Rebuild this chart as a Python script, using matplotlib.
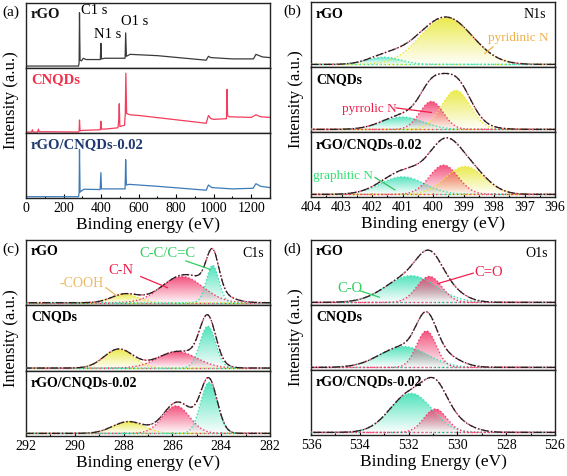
import numpy as np
import matplotlib
matplotlib.use("Agg")
import matplotlib.pyplot as plt
import matplotlib.colors as mcolors
from matplotlib.ticker import MultipleLocator

plt.rcParams['font.family'] = ['Liberation Serif', 'DejaVu Serif']

samples = ['rGO', 'CNQDs', 'rGO/CNQDs-0.02']

# ---- (a) survey spectra (eV, normalised intensity)
surv_x_rgo = [0, 280, 283, 285, 288, 296, 305, 320, 396, 399, 402, 420, 528, 531, 535, 555,
              700, 960, 972, 985, 1100, 1212, 1225, 1260, 1300]
surv_y_rgo = [0.03, 0.03, 0.08, 0.85, 0.12, 0.11, 0.15, 0.13, 0.13, 0.38, 0.14, 0.15, 0.15, 0.54,
              0.18, 0.21, 0.19, 0.12, 0.18, 0.16, 0.14, 0.14, 0.21, 0.17, 0.16]
surv_x_cnqd = [0, 30, 34, 38, 62, 66, 70, 280, 283, 285, 288, 300, 396, 399, 402, 420, 490, 494,
               497, 500, 525, 529, 532, 536, 555, 600, 960, 972, 985, 1000, 1068, 1071, 1074,
               1080, 1200, 1225, 1250, 1300]
surv_y_cnqd = [0.015, 0.015, 0.05, 0.015, 0.015, 0.06, 0.02, 0.015, 0.03, 0.2, 0.035, 0.04,
               0.05, 0.18, 0.06, 0.06, 0.08, 0.2, 0.45, 0.1, 0.12, 0.3, 0.92, 0.3, 0.28, 0.27,
               0.15, 0.27, 0.22, 0.21, 0.22, 0.67, 0.27, 0.25, 0.24, 0.28, 0.25, 0.24]
surv_x_comp = [0, 280, 283, 285, 288, 300, 310, 395, 399, 402, 420, 528, 531, 535, 550, 700,
               960, 972, 990, 1100, 1210, 1225, 1250, 1300]
surv_y_comp = [0.02, 0.02, 0.08, 0.75, 0.09, 0.12, 0.135, 0.13, 0.39, 0.14, 0.14, 0.14, 0.59,
               0.2, 0.21, 0.18, 0.12, 0.2, 0.16, 0.14, 0.15, 0.22, 0.18, 0.16]

# ---- fitted components: centre (eV), height, FWHM, species
n1s_center = [[399.56, 401.6], [401.0, 399.25, 400.05], [401.0, 398.95, 399.65]]
n1s_height = [[0.72, 0.11], [0.19, 0.6, 0.43], [0.27, 0.43, 0.45]]
n1s_fwhm = [[2.0, 1.3], [1.6, 1.1, 0.9], [1.7, 1.5, 1.1]]
n1s_kind = [['pyridinic', 'graphitic'], ['graphitic', 'pyridinic', 'pyrrolic'],
            ['graphitic', 'pyridinic', 'pyrrolic']]
n1s_extra = [[400.8, 0.06, 1.5], [399.6, 0.17, 2.0], [400.2, 0.16, 2.0]]

c1s_center = [[287.95, 285.6, 284.35], [288.2, 285.8, 284.55], [287.8, 285.85, 284.5]]
c1s_height = [[0.13, 0.4, 0.57], [0.29, 0.25, 0.64], [0.18, 0.42, 0.78]]
c1s_fwhm = [[1.3, 2.0, 0.6], [1.4, 1.9, 0.75], [1.5, 1.3, 0.8]]
c1s_kind = [['COOH', 'CN', 'CC']] * 3
c1s_extra = [[284.4, 0.12, 1.6], [284.6, 0.1, 1.2], [285.2, 0.1, 1.4]]

o1s_center = [[531.9, 531.15], [532.2, 531.27], [531.9, 530.9]]
o1s_height = [[0.41, 0.4], [0.32, 0.56], [0.6, 0.36]]
o1s_fwhm = [[2.4, 1.2], [2.3, 0.95], [2.0, 1.1]]
o1s_kind = [['CO', 'C=O'], ['CO', 'C=O'], ['CO', 'C=O']]
o1s_extra = [[530.5, 0.14, 1.6], [530.6, 0.15, 1.6], [530.4, 0.2, 1.8]]

kind_color = {'pyridinic': '#e8e83a', 'pyrrolic': '#f23a6c', 'graphitic': '#3ee0b4',
              'COOH': '#e8e83a', 'CN': '#f23a6c', 'CC': '#3ee0b4',
              'CO': '#3ee0b4', 'C=O': '#f23a6c'}
surv_color = ['#3a3a3a', '#f43c5c', '#3c7ab8']
label_color_a = ['#111111', '#f0304a', '#1f3a70']

W, H = 567, 476
fig = plt.figure(figsize=(W / 100, H / 100), dpi=100)


def rect(l, t, r, b):
    return [l / W, 1 - b / H, (r - l) / W, (b - t) / H]


def make_panel(l, t, r, b, xlim, major, minor, xlabel, tag, tagx):
    axs = []
    h = (b - t) / 3
    for i in range(3):
        ax = fig.add_axes(rect(l, t + i * h, r, t + (i + 1) * h))
        ax.set_xlim(*xlim)
        ax.set_ylim(0, 1)
        ax.set_yticks([])
        for s in ax.spines.values():
            s.set_linewidth(1.0)
            s.set_color('#222222')
        if i < 2:
            ax.set_xticks([])
        else:
            ax.xaxis.set_major_locator(MultipleLocator(major))
            ax.xaxis.set_minor_locator(MultipleLocator(minor))
            ax.tick_params(axis='x', which='major', direction='in', length=3, width=0.8,
                           labelsize=10, pad=3)
            ax.tick_params(axis='x', which='minor', direction='in', length=1.8, width=0.8)
            ax.set_xlabel(xlabel, fontsize=12.5, labelpad=1)
        axs.append(ax)
    fig.text(tagx / W, 1 - (t + 9) / H, tag, fontsize=11, ha='left', va='center')
    fig.text((l - 15) / W, 1 - (t + b) / 2 / H, 'Intensity (a.u.)', rotation=90,
             fontsize=12, ha='center', va='center')
    return axs


def gauss(x, c, h, w):
    return h * np.exp(-4 * np.log(2) * (x - c) ** 2 / w ** 2)


def grad_fill(ax, x, y, base, color, z):
    poly = ax.fill_between(x, base, y, facecolor='none', edgecolor='none')
    img = np.ones((200, 1, 4))
    img[:, 0, :3] = mcolors.to_rgb(color)
    img[:, 0, 3] = np.linspace(0.03, 0.9, 200)
    im = ax.imshow(img, extent=[x.min(), x.max(), base, y.max()], origin='lower',
                   aspect='auto', zorder=z, interpolation='bilinear')
    im.set_clip_path(poly.get_paths()[0], transform=ax.transData)


def draw_fit(ax, xlim, centers, heights, fwhms, kinds, extra):
    x = np.linspace(min(xlim), max(xlim), 800)
    base = 0.04
    total = np.zeros_like(x)
    for k, (c, h, w, kd) in enumerate(zip(centers, heights, fwhms, kinds)):
        y = gauss(x, c, h, w)
        total += y
        col = kind_color[kd]
        grad_fill(ax, x, base + y, base, col, 2 + k)
        ax.plot(x, base + y, ls=(0, (1, 1.5)), color=col, lw=1.0, zorder=5)
        ax.plot(x, np.full_like(x, base), ls=(k, (1, 2)), color=col, lw=1.0, zorder=5)
    total += gauss(x, *extra)
    ax.plot(x, base + total, ls=(0, (1, 1.5)), color='#f06080', lw=1.2, zorder=6)
    ax.plot(x, base + total, ls='-.', color='#202020', lw=0.9, zorder=7)
    ax.set_xlim(*xlim)
    ax.set_ylim(0, 1)


# ---- (a)
ax_a = make_panel(26, 3, 270, 198, (0, 1300), 200, 100, 'Binding energy (eV)', '(a)', 2)
surveys = [(surv_x_rgo, surv_y_rgo), (surv_x_cnqd, surv_y_cnqd), (surv_x_comp, surv_y_comp)]
for i, ax in enumerate(ax_a):
    sx, sy = surveys[i]
    ax.plot(sx, sy, color=surv_color[i], lw=0.9)
    ax.text(0.02, 0.82, samples[i], transform=ax.transAxes, fontsize=10.5, weight='bold',
            color=label_color_a[i], va='center', ha='left')
ax_a[0].text(292, 0.88, 'C1 s', fontsize=10.5, va='center')
ax_a[0].text(360, 0.52, 'N1 s', fontsize=10.5, va='center')
ax_a[0].text(505, 0.71, 'O1 s', fontsize=10.5, va='center')

# ---- (b)
xb = (404, 396)
ax_b = make_panel(311, 2, 555, 197, xb, 1, 0.5, 'Binding energy (eV)', '(b)', 283)
for i, ax in enumerate(ax_b):
    draw_fit(ax, xb, n1s_center[i], n1s_height[i], n1s_fwhm[i], n1s_kind[i], n1s_extra[i])
    ax.text(0.02, 0.8, samples[i], transform=ax.transAxes, fontsize=10, weight='bold',
            va='center', ha='left', zorder=10)
ax_b[0].text(396.3, 0.8, 'N1s', fontsize=10, ha='right', va='center')
ax_b[0].text(397.2, 0.44, 'pyridinic N', fontsize=9.5, color='#eeb04a', ha='center', va='center')
ax_b[0].plot([398.3, 398.03], [0.21, 0.31], color='#eeb04a', lw=0.9, zorder=8)
ax_b[1].text(402.1, 0.36, 'pyrrolic N', fontsize=9.5, color='#f0204c', ha='center', va='center')
ax_b[1].plot([401.2, 400.05], [0.37, 0.3], color='#f0204c', lw=0.9, zorder=8)
ax_b[2].text(402.95, 0.32, 'graphitic N', fontsize=9.5, color='#30e070', ha='center', va='center')
ax_b[2].plot([401.9, 401.25], [0.3, 0.11], color='#30c060', lw=0.9, zorder=8)

# ---- (c)
xc = (292, 282)
ax_c = make_panel(26, 240, 270, 436, xc, 2, 1, 'Binding energy (eV)', '(c)', 2)
for i, ax in enumerate(ax_c):
    draw_fit(ax, xc, c1s_center[i], c1s_height[i], c1s_fwhm[i], c1s_kind[i], c1s_extra[i])
    ax.text(0.02, 0.82, samples[i], transform=ax.transAxes, fontsize=10, weight='bold',
            va='center', ha='left', zorder=10)
ax_c[0].text(282.25, 0.8, 'C1s', fontsize=10, ha='right', va='center')
ax_c[0].text(286.2, 0.8, 'C-C/C=C', fontsize=10.5, color='#30d060', ha='center', va='center')
ax_c[0].plot([285.45, 284.45], [0.68, 0.55], color='#30d060', lw=0.9, zorder=8)
ax_c[0].text(288.1, 0.53, 'C-N', fontsize=10.5, color='#f0204c', ha='center', va='center')
ax_c[0].plot([287.3, 286.2], [0.44, 0.27], color='#f0204c', lw=0.9, zorder=8)
ax_c[0].text(289.7, 0.33, '-COOH', fontsize=10, color='#eeb860', ha='center', va='center')
ax_c[0].plot([288.72, 288.3], [0.27, 0.15], color='#eeb860', lw=0.9, zorder=8)

# ---- (d)
xd = (536, 526)
ax_d = make_panel(311, 240, 555, 435, xd, 2, 1, 'Binding Energy (eV)', '(d)', 283)
for i, ax in enumerate(ax_d):
    draw_fit(ax, xd, o1s_center[i], o1s_height[i], o1s_fwhm[i], o1s_kind[i], o1s_extra[i])
    ax.text(0.02, 0.82, samples[i], transform=ax.transAxes, fontsize=10, weight='bold',
            va='center', ha='left', zorder=10)
ax_d[0].text(526.3, 0.8, 'O1s', fontsize=10, ha='right', va='center')
ax_d[0].text(534.4, 0.26, 'C-O', fontsize=10.5, color='#30d060', ha='center', va='center')
ax_d[0].plot([534.0, 533.2], [0.22, 0.12], color='#30d060', lw=0.9, zorder=8)
ax_d[0].text(528.7, 0.5, 'C=O', fontsize=10.5, color='#f0204c', ha='center', va='center')
ax_d[0].plot([529.35, 530.8], [0.49, 0.33], color='#f0204c', lw=0.9, zorder=8)

fig.savefig('out.png', dpi=100)
